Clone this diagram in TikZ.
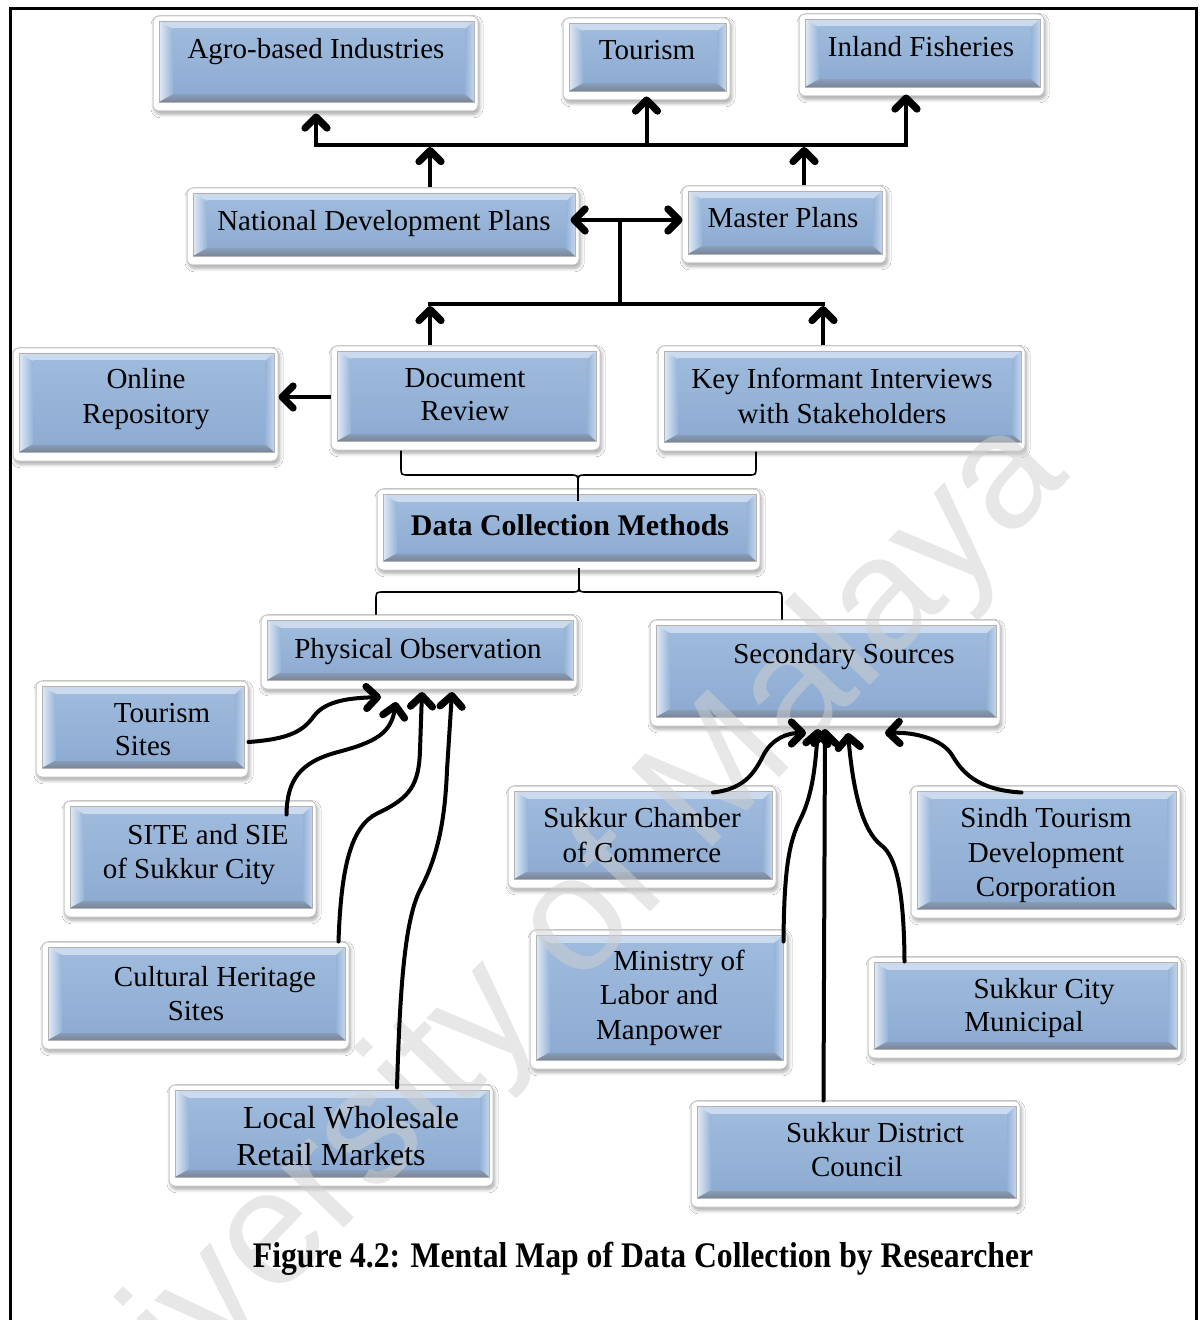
\documentclass[tikz,border=0pt]{standalone}
\usepackage{graphicx}
\usepackage{fontspec}
\setmainfont{Liberation Serif}
\newfontfamily\wmfont{Liberation Sans}
\usetikzlibrary{arrows.meta,fit,shadows.blur}

\definecolor{faceTop}{RGB}{158,187,221}
\definecolor{faceBot}{RGB}{142,172,210}
\definecolor{face}{RGB}{149,179,215}
\definecolor{bevTop}{RGB}{203,218,237}
\definecolor{bevLeft}{RGB}{226,234,246}
\definecolor{bevRight}{RGB}{196,212,234}
\definecolor{bevBot}{RGB}{122,134,152}
\definecolor{wmgray}{RGB}{208,208,208}

\tikzset{
  gbox/.style={rectangle, rounded corners=3pt, draw=black!22, line width=0.5pt,
    fill=white, inner sep=0pt,
    blur shadow={shadow xshift=0.8pt, shadow yshift=-1.6pt, shadow blur steps=6,
      shadow blur radius=1.8pt, shadow opacity=35},
    path picture={
      \coordinate (Anw) at ([shift={(3pt,-2.5pt)}]path picture bounding box.north west);
      \coordinate (Ane) at ([shift={(-2pt,-2.5pt)}]path picture bounding box.north east);
      \coordinate (Ase) at ([shift={(-2pt,4.5pt)}]path picture bounding box.south east);
      \coordinate (Asw) at ([shift={(3pt,4.5pt)}]path picture bounding box.south west);
      \coordinate (Bnw) at ([shift={(10pt,-6.5pt)}]path picture bounding box.north west);
      \coordinate (Bne) at ([shift={(-6.5pt,-6.5pt)}]path picture bounding box.north east);
      \coordinate (Bse) at ([shift={(-6.5pt,8.5pt)}]path picture bounding box.south east);
      \coordinate (Bsw) at ([shift={(10pt,8.5pt)}]path picture bounding box.south west);
      \fill[sharp corners, draw=none, bevTop] (Anw) -- (Ane) -- (Bne) -- (Bnw) -- cycle;
      \shade[sharp corners, draw=none, left color=bevLeft, right color=face]
        (Anw) -- (Bnw) -- (Bsw) -- (Asw) -- cycle;
      \shade[sharp corners, draw=none, left color=face, right color=bevRight]
        (Ane) -- (Bne) -- (Bse) -- (Ase) -- cycle;
      \shade[sharp corners, draw=none, top color=face!55!bevBot, bottom color=bevBot]
        (Asw) -- (Bsw) -- (Bse) -- (Ase) -- cycle;
      \shade[sharp corners, draw=none, top color=faceTop, bottom color=faceBot]
        (Bnw) rectangle (Bse);
      \draw[sharp corners, black!30, line width=0.35pt] (Anw) rectangle (Ase);
    }},
  lbl/.style={anchor=base, inner sep=0pt, font=\fontsize{14.5}{17}\selectfont},
  lblbig/.style={lbl, font=\fontsize{16}{18}\selectfont},
  lblb/.style={lbl, font=\fontsize{15}{17}\selectfont\bfseries},
  tip/.tip={Straight Barb[length=5.5pt,width=11pt,line width=3.6pt,round]},
  conn/.style={line width=2pt, line cap=rect, line join=miter},
  arr/.style={line width=2pt, line join=miter, -tip},
  arrc/.style={line width=2pt, line cap=round, -tip},
  arr2/.style={line width=2pt, tip-tip},
  brace/.style={line width=0.8pt},
  pageframe/.style={line width=1.5pt},
  wm/.style={rotate=46, inner sep=0pt, text=wmgray, opacity=0.5,
    font=\wmfont\fontsize{82}{82}\selectfont},
  captext/.style={anchor=base, inner sep=0pt, font=\fontsize{18}{20}\selectfont\bfseries},
}

\newcommand\gb[5]{\node[gbox, fit={(#2,#3)(#4,#5)}] (#1) {};}

\begin{document}
\begin{tikzpicture}[x=0.5pt,y=-0.5pt]
\useasboundingbox (0,0) rectangle (1200,1320);
\fill[white] (0,0) rectangle (1200,1320);

% page frame
\draw[pageframe] (10,1320) -- (10,9) -- (1196,9) -- (1196,1320);

% boxes
\gb{agro}{153}{16}{478}{111}
\gb{tour}{563}{18}{730}{100}
\gb{inland}{799}{14}{1044}{96}
\gb{ndp}{187}{188}{579}{265}
\gb{mp}{682}{186}{886}{263}
\gb{orep}{13}{348}{278}{461}
\gb{dr}{331}{346}{600}{450}
\gb{ki}{658}{346}{1025}{451}
\gb{dcm}{377}{489}{760}{570}
\gb{po}{261}{615}{577}{689}
\gb{ss}{650}{620}{1000}{726}
\gb{ts}{36}{681}{248}{777}
\gb{site}{64}{801}{316}{917}
\gb{chs}{42}{942}{349}{1049}
\gb{lw}{169}{1085}{493}{1186}
\gb{scc}{508}{786}{776}{888}
\gb{stdc}{911}{786}{1180}{918}
\gb{mlm}{530}{930}{787}{1069}
\gb{scm}{868}{957}{1181}{1058}
\gb{sdc}{691}{1101}{1020}{1207}

% watermark
\node[wm] (wmark) at (528,978) {University of Malaya};

% box texts
\node[lbl] (agroT) at (316,59) {Agro-based Industries};
\node[lbl] (tourT) at (647,60) {Tourism};
\node[lbl] (inlandT) at (921,57) {Inland Fisheries};
\node[lbl] (ndpT) at (384,231) {National Development Plans};
\node[lbl] (mpT) at (783,228) {Master Plans};
\node[lbl] (orepT1) at (146,389) {Online};
\node[lbl] (orepT2) at (146,423) {Repository};
\node[lbl] (drT1) at (465,387) {Document};
\node[lbl] (drT2) at (465,421) {Review};
\node[lbl] (kiT1) at (842,389) {Key Informant Interviews};
\node[lbl] (kiT2) at (842,423) {with Stakeholders};
\node[lblb] (dcmT) at (570,535) {Data Collection Methods};
\node[lbl] (poT) at (418,658) {Physical Observation};
\node[lbl] (ssT) at (844,663) {Secondary Sources};
\node[lbl] (tsT1) at (162,722) {Tourism};
\node[lbl] (tsT2) at (143,755) {Sites};
\node[lbl] (siteT1) at (208,844) {SITE and SIE};
\node[lbl] (siteT2) at (189,878) {of Sukkur City};
\node[lbl] (chsT1) at (215,986) {Cultural Heritage};
\node[lbl] (chsT2) at (196,1020) {Sites};
\node[lblbig] (lwT1) at (351,1128) {Local Wholesale};
\node[lblbig] (lwT2) at (331,1165) {Retail Markets};
\node[lbl] (sccT1) at (642,827) {Sukkur Chamber};
\node[lbl] (sccT2) at (642,862) {of Commerce};
\node[lbl] (stdcT1) at (1046,827) {Sindh Tourism};
\node[lbl] (stdcT2) at (1046,862) {Development};
\node[lbl] (stdcT3) at (1046,896) {Corporation};
\node[lbl] (mlmT1) at (679,970) {Ministry of};
\node[lbl] (mlmT2) at (659,1004) {Labor and};
\node[lbl] (mlmT3) at (659,1039) {Manpower};
\node[lbl] (scmT1) at (1044,998) {Sukkur City};
\node[lbl] (scmT2) at (1024,1031) {Municipal};
\node[lbl] (sdcT1) at (875,1142) {Sukkur District};
\node[lbl] (sdcT2) at (857,1176) {Council};

% upper tree: plans feed the sectors
\coordinate (busL) at (316,145);
\coordinate (busR) at (906,145);
\coordinate (bus1) at (430,147);
\coordinate (bus2) at (804,147);
\draw[conn] (busL) -- (busR);
\draw[arr] (busL) -- ([yshift=-1pt]busL |- agro.south);
\draw[arr] (tour.south |- busL) -- ([yshift=2pt]tour.south);
\draw[arr] (busR) -- ([yshift=1pt]busR |- inland.south);
\draw[arr] (bus1 |- ndp.north) -- (bus1);
\draw[arr] (bus2 |- mp.north) -- (bus2);

% plans linked, fed by review and interviews
\coordinate (hub) at (620,220);
\coordinate (bus3L) at (430,306);
\coordinate (bus3R) at (823,306);
\coordinate (bus3M) at (620,304);
\draw[arr2] ([xshift=-4.5pt]ndp.east |- hub) -- ([xshift=0.5pt]mp.west |- hub);
\draw[conn] (hub) -- (bus3M);
\draw[conn] (430,304) -- (823,304);
\draw[arr] (bus3L |- dr.north) -- (bus3L);
\draw[arr] (bus3R |- ki.north) -- (bus3R);
\draw[arr] ([yshift=0.5pt]dr.west) -- ([yshift=0.5pt]dr.west -| orep.east);

% braces around the methods box
\coordinate (brL) at (401,450);
\coordinate (brR) at (756,450);
\coordinate (cuspU) at (578,484);
\draw[brace] (brL |- dr.south) -- (401,467) .. controls (401,475) .. (409,475)
  -- (570,475) .. controls (578,475) .. (cuspU) .. controls (578,475) .. (586,475)
  -- (748,475) .. controls (756,475) .. (756,467) -- (brR |- ki.south);
\draw[brace] (cuspU) -- ([yshift=-6pt]dcm.north -| cuspU);
\coordinate (cuspD) at (579,584);
\coordinate (brPL) at (376,615);
\coordinate (brPR) at (782,620);
\draw[brace] ([yshift=1.5pt]dcm.south -| cuspD) -- (cuspD);
\draw[brace] (po.north -| brPL) -- (376,600) .. controls (376,592) .. (384,592)
  -- (571,592) .. controls (579,592) .. (cuspD) .. controls (579,592) .. (587,592)
  -- (774,592) .. controls (782,592) .. (782,600) -- (ss.north -| brPR);

% sources of physical observation
\coordinate (pA) at (381,697);
\coordinate (pB) at (396,702);
\coordinate (pC) at (422,692);
\coordinate (pD) at (452,692);
\draw[arrc] ([yshift=-6.5pt]ts.east) .. controls (290,739) and (303,731) .. (314,716)
  .. controls (326,700) and (352,698) .. (pA);
\draw[arrc] ([shift={(-15pt,-7pt)}]site.north east) .. controls (287,780) and (300,762) .. (338,752)
  .. controls (376,742) and (391,733) .. (pB);
\draw[arrc] ([shift={(-5.5pt,0pt)}]chs.north east) .. controls (341,870) and (350,826) .. (378,813)
  .. controls (410,798) and (419,785) .. (420,750) -- (pC);
\draw[arrc] ([shift={(33pt,-1.5pt)}]lw.north) .. controls (400,985) and (405,920) .. (420,890)
  .. controls (438,856) and (445,820) .. (447,770) -- (pD);

% sources of secondary data
\coordinate (sA) at (806,733);
\coordinate (sB) at (885,733);
\coordinate (sC) at (818,729);
\coordinate (sD) at (825,729);
\coordinate (sE) at (848,733);
\draw[arrc] ([shift={(35.5pt,-3.5pt)}]scc.north) .. controls (745,789) and (755,772) .. (764,754)
  .. controls (773,738) and (788,733) .. (sA);
\draw[arrc] ([shift={(-12pt,-3.5pt)}]stdc.north) .. controls (977,790) and (962,772) .. (952,755)
  .. controls (942,739) and (915,732) .. (sB);
\draw[arrc] ([shift={(-2pt,-6pt)}]mlm.north east) .. controls (784,870) and (789,842) .. (800,820)
  .. controls (812,796) and (815,770) .. (sC);
\draw[arrc] ([shift={(-16pt,0pt)}]sdc.north) -- (sD);
\draw[arrc] ([shift={(18.5pt,-2.5pt)}]scm.north west) .. controls (904,890) and (896,856) .. (881,845)
  .. controls (862,830) and (853,790) .. (sE);

% caption
\node[captext] (caption) at (643,1267) {\scalebox{0.88}[1]{Figure 4.2: Mental Map of Data Collection by Researcher}};
\end{tikzpicture}
\end{document}
